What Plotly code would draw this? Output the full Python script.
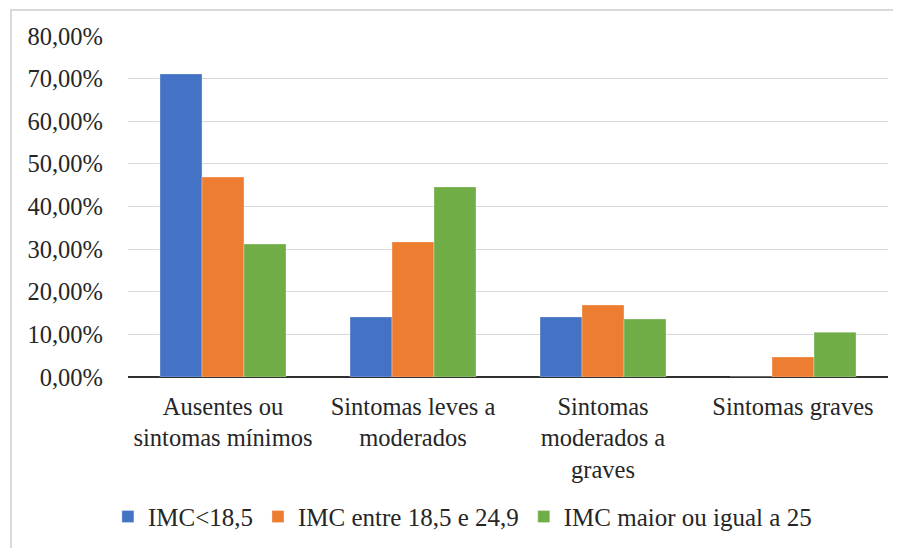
import plotly.graph_objects as go

categories = ["Ausentes ou<br>sintomas mínimos", "Sintomas leves a<br>moderados",
              "Sintomas<br>moderados a<br>graves", "Sintomas graves"]
series_names = ["IMC<18,5", "IMC entre 18,5 e 24,9", "IMC maior ou igual a 25"]
imc_baixo = [0.7110, 0.1410, 0.1410, 0.0]
imc_normal = [0.4690, 0.3170, 0.1690, 0.0470]
imc_alto = [0.3120, 0.4460, 0.1360, 0.1050]
colors = ["#4472C4", "#ED7D31", "#70AD47"]
y_ticks = [0, 0.1, 0.2, 0.3, 0.4, 0.5, 0.6, 0.7, 0.8]

FONT = "Liberation Serif, Times New Roman, serif"
TXT = "#262626"
fig = go.Figure()
for name, vals, col in zip(series_names, [imc_baixo, imc_normal, imc_alto], colors):
    fig.add_trace(go.Bar(x=categories, y=vals, name=name,
                         marker=dict(color=col, line=dict(color="rgba(255,255,255,0.6)", width=0.5))))

fig.update_layout(
    width=893, height=540,
    margin=dict(l=120, r=13, t=28, b=171, autoexpand=False),
    paper_bgcolor="white", plot_bgcolor="white",
    separators=",.",
    barmode="group", bargap=0.337, bargroupgap=0,
    font=dict(family=FONT, size=24, color=TXT),
    showlegend=True,
    legend=dict(orientation="h", x=0.44, xanchor="center", y=-0.41, yanchor="middle",
                font=dict(family=FONT, size=25, color=TXT), itemwidth=30,
                traceorder="normal"),
    xaxis=dict(showgrid=False, showline=False, ticks="", automargin=False, ticklabelstandoff=12,
               tickfont=dict(family=FONT, size=24.5, color=TXT), zeroline=False),
    yaxis=dict(range=[0, 0.8], tickvals=y_ticks, tickformat=".2%", showgrid=True, automargin=False,
               gridcolor="#d9d9d9", gridwidth=1.2, zeroline=True, zerolinecolor="#303030",
               zerolinewidth=2, showline=False, ticks="", ticklabelstandoff=24,
               tickfont=dict(family=FONT, size=24.5, color=TXT)),
    shapes=[dict(type="rect", xref="paper", yref="paper", x0=-0.154, x1=1.05, y0=-0.6, y1=1.076,
                 line=dict(color="#d9d9d9", width=2), fillcolor="rgba(0,0,0,0)", layer="below")],
)
fig.write_html("out.html")
